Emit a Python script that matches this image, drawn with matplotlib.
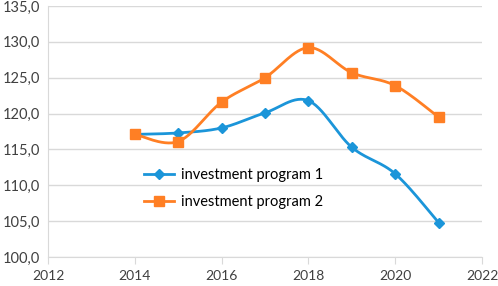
import numpy as np
import matplotlib.pyplot as plt
from matplotlib.ticker import FuncFormatter

years = [2014, 2015, 2016, 2017, 2018, 2019, 2020, 2021]
program1 = [117.1, 117.3, 118.0, 120.1, 121.8, 115.3, 111.6, 104.8]
program2 = [117.1, 116.1, 121.6, 125.0, 129.2, 125.7, 123.9, 119.5]
labels = ['investment program 1', 'investment program 2']


def smooth(x, y, n=30):
    # Excel-style smoothed line: cubic bezier with control points from neighbours
    x = np.asarray(x, float)
    y = np.asarray(y, float)
    px, py = [], []
    for i in range(len(x) - 1):
        x0, y0 = (x[i - 1], y[i - 1]) if i > 0 else (x[i], y[i])
        x3, y3 = (x[i + 2], y[i + 2]) if i + 2 < len(x) else (x[i + 1], y[i + 1])
        c1 = (x[i] + (x[i + 1] - x0) / 6, y[i] + (y[i + 1] - y0) / 6)
        c2 = (x[i + 1] - (x3 - x[i]) / 6, y[i + 1] - (y3 - y[i]) / 6)
        t = np.linspace(0, 1, n)
        bx = (1-t)**3*x[i] + 3*(1-t)**2*t*c1[0] + 3*(1-t)*t**2*c2[0] + t**3*x[i+1]
        by = (1-t)**3*y[i] + 3*(1-t)**2*t*c1[1] + 3*(1-t)*t**2*c2[1] + t**3*y[i+1]
        px.extend(bx)
        py.extend(by)
    return px, py


plt.rcParams['font.family'] = ['Lato', 'DejaVu Sans']

fig = plt.figure(figsize=(4.98, 2.86), dpi=100)
ax = fig.add_axes([48/498, 1 - 257/286, (482 - 48)/498, (257 - 6)/286])

blue = '#1B95D9'
orange = '#FF7F24'

sx, sy = smooth(years, program1)
ax.plot(sx, sy, color=blue, lw=2, zorder=3)
ax.plot(years, program1, ls='none', marker='D', ms=5, color=blue, zorder=4)
sx, sy = smooth(years, program2)
ax.plot(sx, sy, color=orange, lw=2, zorder=3)
ax.plot(years, program2, ls='none', marker='s', ms=7, color=orange, zorder=4)

# legend handles
ax.plot([], [], color=blue, lw=2, marker='D', ms=5, label=labels[0])
ax.plot([], [], color=orange, lw=2, marker='s', ms=7, label=labels[1])
ax.legend(loc='upper left', bbox_to_anchor=(0.19, 0.405), frameon=False,
          fontsize=10.5, handlelength=2.1, labelspacing=0.85, handletextpad=0.45)

ax.set_xlim(2012, 2022)
ax.set_ylim(100, 135)
ax.set_xticks(range(2012, 2023, 2))
ax.set_yticks(range(100, 136, 5))
ax.yaxis.set_major_formatter(FuncFormatter(lambda v, p: f'{v:.1f}'.replace('.', ',')))

ax.grid(axis='y', color='#D9D9D9', lw=1)
ax.set_axisbelow(True)
for s in ['top', 'right']:
    ax.spines[s].set_visible(False)
ax.spines['left'].set_color('#D9D9D9')
ax.spines['bottom'].set_color('#D9D9D9')
ax.tick_params(axis='y', length=0, labelsize=10.5, pad=6, colors='#404040')
ax.tick_params(axis='x', length=5, color='#D9D9D9', labelsize=10, pad=4, labelcolor='#404040')

fig.savefig('out.png', dpi=100)
